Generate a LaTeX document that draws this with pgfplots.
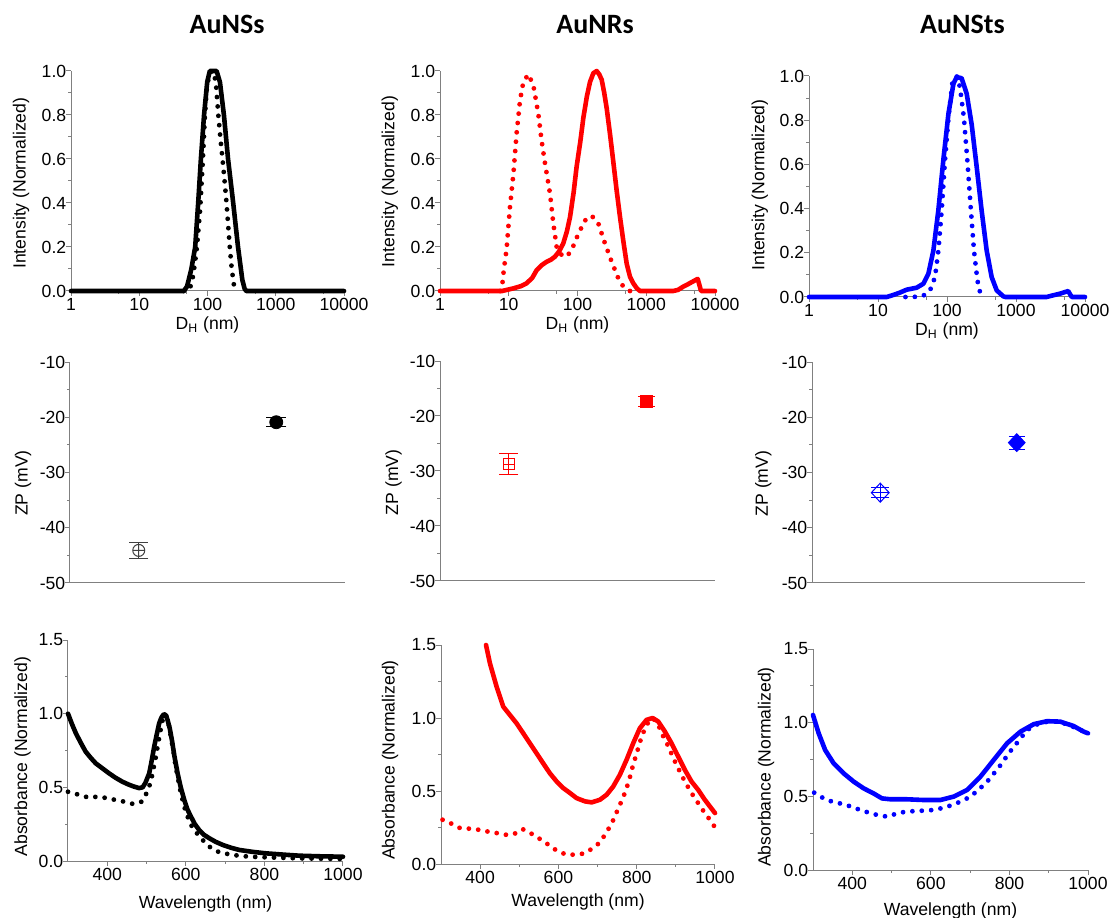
\documentclass[border=0pt]{standalone}
\usepackage{fontspec}
\setmainfont{Liberation Sans}
\newfontfamily\titlefont{Carlito}
\usepackage{pgfplots}
\pgfplotsset{compat=1.18}
\definecolor{nrred}{HTML}{FF0000}
\definecolor{stblue}{HTML}{0000FF}
\pgfplotsset{
  panel/.style={scale only axis, anchor=south west, clip=false,
    axis x line*=bottom, axis y line*=left,
    axis line style={-, black!50, line width=0.5pt},
    tick style={black!50, line width=0.5pt},
    tick align=outside, major tick length=2.4pt, minor tick length=1.3pt,
    tick label style={font=\fontsize{8.8}{10}\selectfont},
    yticklabel style={inner sep=1pt, xshift=1.2pt},
    xticklabel style={inner sep=1pt},
    label style={font=\fontsize{8.8}{10}\selectfont},
    xlabel style={anchor=base}, ylabel style={anchor=center}},
  dls/.style={panel, xmin=1, xmax=10000, ymin=0, ymax=1,
    xtick={1,10,100,1000,10000}, xticklabels={1,10,100,1000,10000},
    minor xtick={5,50,500,5000},
    ytick={0,0.2,0.4,0.6,0.8,1}, yticklabels={0.0,0.2,0.4,0.6,0.8,1.0},
    minor ytick={0.1,0.3,0.5,0.7,0.9},
    xlabel={D\textsubscript{H} (nm)}, ylabel={Intensity (Normalized)}},
  zp/.style={panel, xmin=0, xmax=4, ymin=-50, ymax=-10, xtick=\empty,
    ytick={-50,-40,-30,-20,-10}, yticklabels={-50,-40,-30,-20,-10},
    minor ytick={-45,-35,-25,-15}, ylabel={ZP (mV)}},
  uv/.style={panel, xmin=300, xmax=1000, ymin=0, ymax=1.5,
    xtick={400,600,800,1000}, xticklabels={400,600,800,1000},
    minor xtick={500,700,900},
    ytick={0,0.5,1,1.5}, yticklabels={0.0,0.5,1.0,1.5},
    minor ytick={0.25,0.75,1.25},
    xlabel={Wavelength (nm)}, ylabel={Absorbance (Normalized)}},
  solidc/.style={line width=2.3pt, line join=round, line cap=round, no markers},
  dotc/.style={line width=2.4pt, line cap=round, dash pattern=on 0pt off 4.7pt, no markers},
  zperr/.style={only marks, error bars/.cd, y dir=both, y explicit,
    error bar style={line width=0.5pt, solid}, error mark=|,
    error mark options={line width=0.5pt, mark size=#1}},
}
\begin{document}
\begin{tikzpicture}
\useasboundingbox (0,0) rectangle (555pt,458.5pt);
\node[font=\titlefont\bfseries\fontsize{14}{16}\selectfont, anchor=base] at (113.5pt,441.8pt) {AuNSs};
\node[font=\titlefont\bfseries\fontsize{14}{16}\selectfont, anchor=base] at (297.5pt,441.8pt) {AuNRs};
\node[font=\titlefont\bfseries\fontsize{14}{16}\selectfont, anchor=base] at (481.2pt,441.8pt) {AuNSts};

% ---- DLS row
\begin{semilogxaxis}[dls, at={(35.5pt,313pt)}, width=136.5pt, height=110pt,
  ylabel style={at={(axis description cs:-0.183,0.49)}},
  xlabel style={at={(axis description cs:0.5,-0.177)}}]
  \addplot[dotc, black] coordinates {(45,0) (50,0) (55,0.01) (60,0.05) (65,0.12) (70,0.2)
    (78,0.37) (85,0.58) (91,0.78) (97,0.91) (105,0.98) (115,1.0) (125,0.99) (134,0.93)
    (144,0.8) (155,0.69) (166,0.6) (178,0.5) (190,0.4) (212,0.2) (225,0.11) (238,0.05) (251,0)};
  \addplot[solidc, black] coordinates {(1,0) (45,0) (50,0.02) (53,0.05) (58,0.1) (66,0.2)
    (73,0.4) (80,0.6) (89,0.8) (99,0.95) (108,1.0) (136,1.0) (152,0.95) (174,0.8) (200,0.6)
    (238,0.4) (280,0.2) (324,0.05) (350,0.01) (370,0) (10000,0)};
\end{semilogxaxis}

\begin{semilogxaxis}[dls, at={(220pt,313pt)}, width=137.5pt, height=110pt,
  ylabel style={at={(axis description cs:-0.182,0.497)}},
  xlabel style={at={(axis description cs:0.5,-0.177)}}]
  \addplot[dotc, nrred] coordinates {(7.5,0) (8.0,0.02) (8.5,0.1) (9.3,0.19) (10.4,0.38)
    (11.7,0.534) (13,0.716) (14.6,0.867) (16.3,0.95) (19.3,0.985) (22.8,0.935) (26.9,0.806)
    (30,0.685) (33.7,0.58) (39.8,0.443) (44.5,0.307) (49.8,0.2) (58.9,0.163) (69.5,0.156)
    (82,0.186) (103,0.26) (128,0.32) (161,0.342) (201,0.307) (251,0.216) (314,0.133)
    (393,0.057) (464,0.02) (580,0)};
  \addplot[solidc, nrred] coordinates {(1,0) (8,0) (11.7,0.012) (15,0.022) (18.2,0.035)
    (22,0.06) (25.5,0.095) (30,0.117) (35.6,0.133) (41,0.142) (47,0.156) (54,0.18) (62,0.216)
    (70,0.27) (78,0.337) (88,0.45) (97,0.564) (110,0.68) (122,0.79) (137,0.885) (152,0.95)
    (170,0.99) (190,1.0) (207,0.985) (225,0.96) (245,0.9) (266,0.83) (298,0.71) (331,0.59)
    (370,0.46) (415,0.337) (465,0.225) (519,0.125) (580,0.065) (648,0.035) (730,0.012)
    (812,0) (2460,0) (2900,0.005) (3460,0.02) (4000,0.03) (4570,0.04) (5600,0.055)
    (5900,0.03) (6260,0) (10000,0)};
\end{semilogxaxis}

\begin{semilogxaxis}[dls, at={(404.5pt,310pt)}, width=138pt, height=110.5pt,
  ylabel style={at={(axis description cs:-0.178,0.507)}},
  xlabel style={at={(axis description cs:0.5,-0.176)}}]
  \addplot[dotc, stblue] coordinates {(25,0) (32.6,0) (45,0.005) (56.8,0.03) (67,0.09)
    (75,0.21) (83.7,0.39) (93.6,0.62) (105,0.81) (119,0.965) (138,1.0) (154,0.95) (176,0.81)
    (197,0.62) (220,0.41) (246,0.21) (276,0.075) (308,0.008) (330,0)};
  \addplot[solidc, stblue] coordinates {(1,0) (13.4,0) (17,0.01) (20.8,0.02) (26,0.033)
    (36.3,0.042) (45.4,0.06) (53.7,0.105) (63.5,0.21) (74.8,0.39) (88.5,0.62) (105,0.83)
    (124,0.965) (138,0.995) (163,0.99) (193,0.92) (228,0.78) (269,0.59) (318,0.39)
    (376,0.21) (444,0.09) (525,0.03) (655,0.003) (700,0) (2770,0) (3500,0.008)
    (4340,0.015) (5720,0.027) (6000,0.015) (6440,0) (10000,0)};
\end{semilogxaxis}

% ---- zeta potential row
\begin{axis}[zp, at={(35pt,167pt)}, width=137.5pt, height=110.5pt,
  ylabel style={at={(axis description cs:-0.171,0.452)}}]
  \addplot[black!75, line width=0.5pt, mark=oplus, mark size=3pt, zperr=4.8pt]
    coordinates {(1,-44.1) +- (0,1.5)};
  \addplot[black, mark=*, mark size=3.25pt, zperr=5pt]
    coordinates {(3,-20.9) +- (0,0.8)};
\end{axis}

\begin{axis}[zp, at={(220pt,168pt)}, width=137.5pt, height=110pt,
  ylabel style={at={(axis description cs:-0.169,0.448)}}]
  \addplot[nrred, line width=0.5pt, mark=square, mark size=2.8pt, zperr=4.8pt]
    coordinates {(1,-28.75) +- (0,1.87)};
  \addplot[nrred, line width=0.5pt, mark=+, mark size=2.8pt, only marks]
    coordinates {(1,-28.75)};
  \addplot[nrred, mark=square*, mark size=3pt, zperr=4.2pt]
    coordinates {(3,-17.4) +- (0,0.9)};
\end{axis}

\begin{axis}[zp, at={(406pt,167pt)}, width=136.5pt, height=110.5pt,
  ylabel style={at={(axis description cs:-0.178,0.45)}}]
  \addplot[stblue, line width=0.5pt, mark=diamond, mark size=4.75pt,
    mark options={xscale=1.25}, zperr=4.5pt]
    coordinates {(1,-33.65) +- (0,0.9)};
  \addplot[stblue, line width=0.5pt, mark=+, mark size=4.75pt, mark options={xscale=0.94},
    only marks] coordinates {(1,-33.65)};
  \addplot[stblue, mark=diamond*, mark size=4.5pt, mark options={xscale=1.25}, zperr=4pt]
    coordinates {(3,-24.6) +- (0,1.2)};
\end{axis}

% ---- absorbance row
\begin{axis}[uv, at={(34pt,28pt)}, width=137.5pt, height=110.5pt,
  ylabel style={at={(axis description cs:-0.165,0.472)}},
  xlabel style={at={(axis description cs:0.5,-0.215)}}]
  \addplot[dotc, black] coordinates {(300,0.47) (330,0.448) (353,0.43) (376,0.437)
    (399,0.427) (421.6,0.414) (443,0.403) (466,0.387) (488,0.403) (500.7,0.464) (511,0.538)
    (517,0.62) (523.7,0.708) (529,0.79) (534,0.866) (539,0.935) (543,0.98) (549,0.995)
    (553,0.96) (557.7,0.912) (562,0.84) (568,0.753) (573,0.66) (579,0.572) (585,0.49)
    (591.7,0.414) (598,0.35) (604.5,0.301) (612,0.25) (621.5,0.21) (638.5,0.154) (660,0.097)
    (685,0.059) (719,0.041) (762,0.029) (804,0.025) (889,0.018) (1000,0.014)};
  \addplot[solidc, black] coordinates {(300,1.0) (310,0.93) (320,0.867) (333,0.8)
    (345,0.742) (358,0.7) (370.6,0.663) (387,0.63) (404.6,0.595) (421,0.565) (438.6,0.538)
    (455,0.518) (468,0.505) (481,0.495) (490,0.5) (497,0.53) (506.7,0.595) (513,0.68)
    (519.4,0.776) (526,0.86) (532,0.934) (538,0.975) (544,0.997) (549,0.99) (553.5,0.957)
    (559,0.9) (564.5,0.821) (571,0.71) (579,0.595) (587,0.5) (596,0.414) (604,0.35)
    (613,0.301) (623,0.25) (634,0.21) (646,0.178) (660,0.154) (676,0.13) (694,0.109)
    (715,0.09) (736,0.075) (770,0.062) (804,0.052) (850,0.043) (889,0.036) (940,0.032)
    (1000,0.029)};
\end{axis}

\begin{axis}[uv, at={(220.5pt,26.5pt)}, width=137pt, height=109.5pt,
  ylabel style={at={(axis description cs:-0.186,0.475)}},
  xlabel style={at={(axis description cs:0.5,-0.192)}}]
  \addplot[dotc, nrred] coordinates {(304,0.303) (327,0.276) (348.5,0.246) (372,0.242)
    (395,0.235) (418,0.223) (442,0.212) (463.5,0.2) (486.5,0.205) (508.6,0.239) (531.6,0.207)
    (553,0.171) (576.8,0.128) (598,0.087) (621,0.064) (642,0.064) (663.6,0.071) (685,0.103)
    (704.5,0.144) (719,0.2) (731.7,0.258) (742.8,0.315) (753,0.383) (763,0.44) (772.6,0.508)
    (781,0.577) (789.7,0.668) (800,0.759) (810,0.85) (821,0.93) (832,0.982) (842,0.998)
    (855,0.953) (868,0.873) (881,0.805) (893.5,0.725) (906,0.656) (923,0.565) (940,0.486)
    (957,0.417) (974,0.349) (987,0.303) (1000,0.251)};
  \addplot[solidc, nrred] coordinates {(415,1.5) (425,1.375) (442,1.215) (459,1.078)
    (476,1.021) (493,0.964) (510,0.896) (527,0.827) (544,0.759) (561,0.69) (578,0.622)
    (595.5,0.565) (612.5,0.52) (629.6,0.486) (646.6,0.451) (668,0.429) (685,0.422) (706,0.44)
    (723,0.474) (740,0.531) (757,0.611) (774,0.713) (791,0.827) (808,0.93) (825,0.987)
    (840.7,1.0) (855,0.976) (872,0.907) (889,0.827) (906,0.736) (923,0.645) (940,0.565)
    (957,0.508) (974,0.44) (987,0.394) (1000,0.349)};
\end{axis}

\begin{axis}[uv, at={(406.5pt,23.5pt)}, width=137.5pt, height=110.5pt,
  ylabel style={at={(axis description cs:-0.171,0.466)}},
  xlabel style={at={(axis description cs:0.5,-0.205)}}]
  \addplot[dotc, stblue] coordinates {(303,0.525) (331,0.48) (357,0.457) (378,0.448)
    (402,0.425) (425,0.403) (447.6,0.385) (469.7,0.369) (491,0.362) (514,0.385) (536.7,0.396)
    (558.8,0.4) (581.7,0.403) (604.6,0.407) (626.7,0.419) (649.6,0.437) (670.8,0.459)
    (692,0.486) (713,0.525) (730,0.566) (747,0.611) (764,0.667) (781,0.724) (798,0.792)
    (815,0.848) (844.7,0.95) (878.6,1.0) (912.6,1.01) (946.5,0.99) (980.5,0.95) (1000,0.928)};
  \addplot[solidc, stblue] coordinates {(300,1.052) (314.4,0.928) (331,0.814) (352.6,0.724)
    (378,0.656) (403.5,0.6) (429,0.554) (454,0.52) (475.6,0.486) (497,0.48) (539,0.48)
    (581.7,0.475) (624,0.475) (658,0.498) (692,0.543) (726,0.633) (760,0.747) (794,0.86)
    (828,0.939) (862,0.99) (895.6,1.01) (929.6,1.007) (963.5,0.977) (989,0.939) (1000,0.928)};
\end{axis}
\end{tikzpicture}
\end{document}
